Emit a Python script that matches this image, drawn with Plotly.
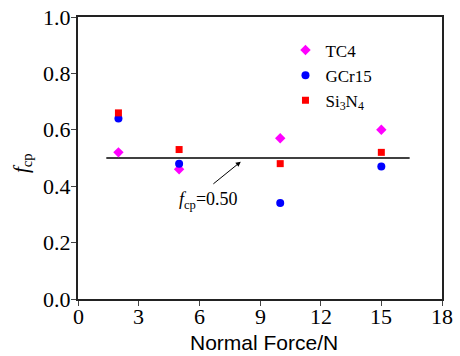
import plotly.graph_objects as go

force = [2, 5, 10, 15]
tc4 = [0.52, 0.46, 0.57, 0.60]
gcr15 = [0.64, 0.48, 0.34, 0.47]
si3n4 = [0.66, 0.53, 0.48, 0.52]
ref_x = [1.4, 16.4]
ref_y = [0.50, 0.50]
x_ticks = [0, 3, 6, 9, 12, 15, 18]
y_ticks = [0.0, 0.2, 0.4, 0.6, 0.8, 1.0]

serif = "Liberation Serif"
sans = "Liberation Sans"
fig = go.Figure()
fig.add_trace(go.Scatter(x=ref_x, y=ref_y, mode="lines",
                         line=dict(color="black", width=1.5), showlegend=False))
fig.add_trace(go.Scatter(x=force, y=tc4, mode="markers", name="TC4",
                         marker=dict(symbol="diamond", size=8, color="#ff00ff")))
fig.add_trace(go.Scatter(x=force, y=gcr15, mode="markers", name="GCr15",
                         marker=dict(symbol="circle", size=8, color="#0000ff")))
fig.add_trace(go.Scatter(x=force, y=si3n4, mode="markers", name="Si<sub>3</sub>N<sub>4</sub>",
                         marker=dict(symbol="square", size=7, color="#ff0000")))

fig.add_annotation(x=8.05, y=0.487, xref="x", yref="y",
                   ax=6.62, ay=0.404, axref="x", ayref="y",
                   showarrow=True, arrowhead=2, arrowsize=1,
                   arrowwidth=1, arrowcolor="black", text="")
fig.add_annotation(x=6.45, y=0.35, xref="x", yref="y",
                   text="<i>f</i><sub>cp</sub>=0.50", showarrow=False,
                   font=dict(family=serif, size=18, color="black"))

# tick labels (serif, placed by the axes' own scales)
for v in x_ticks:
    fig.add_annotation(x=v, y=-0.062, xref="x", yref="paper", text=str(v),
                       showarrow=False, xanchor="center", yanchor="middle",
                       font=dict(family=serif, size=22, color="black"))
for v in y_ticks:
    fig.add_annotation(x=-0.014, y=v, xref="paper", yref="y", text=f"{v:.1f}",
                       showarrow=False, xanchor="right", yanchor="middle",
                       font=dict(family=serif, size=22, color="black"))

# axis titles
fig.add_annotation(x=0.51, y=-0.156, xref="paper", yref="paper",
                   text="Normal Force/N", showarrow=False,
                   xanchor="center", yanchor="middle",
                   font=dict(family=sans, size=21, color="black"))
fig.add_annotation(x=-0.154, y=0.482, xref="paper", yref="paper",
                   text="<i>f</i><sub>cp</sub>", showarrow=False, textangle=-90,
                   xanchor="center", yanchor="middle",
                   font=dict(family=serif, size=21, color="black"))

fig.update_layout(
    width=460, height=356,
    margin=dict(l=78, r=18, t=17, b=57, autoexpand=False),
    plot_bgcolor="white", paper_bgcolor="white",
    font=dict(family=serif, size=21, color="black"),
    legend=dict(x=0.57, y=0.945, xanchor="left", yanchor="top",
                font=dict(family=serif, size=17), bgcolor="rgba(0,0,0,0)",
                itemwidth=30, tracegroupgap=0),
    xaxis=dict(range=[0, 18], tickvals=x_ticks, ticks="outside", ticklen=5,
               showticklabels=False,
               showline=True, mirror=True, linecolor="#222", linewidth=1.5,
               showgrid=False, zeroline=False, automargin=False),
    yaxis=dict(range=[0, 1.0], tickvals=y_ticks, ticks="outside", ticklen=5,
               showticklabels=False,
               showline=True, mirror=True, linecolor="#222", linewidth=1.5,
               showgrid=False, zeroline=False, automargin=False),
)
fig.write_html("out.html")
